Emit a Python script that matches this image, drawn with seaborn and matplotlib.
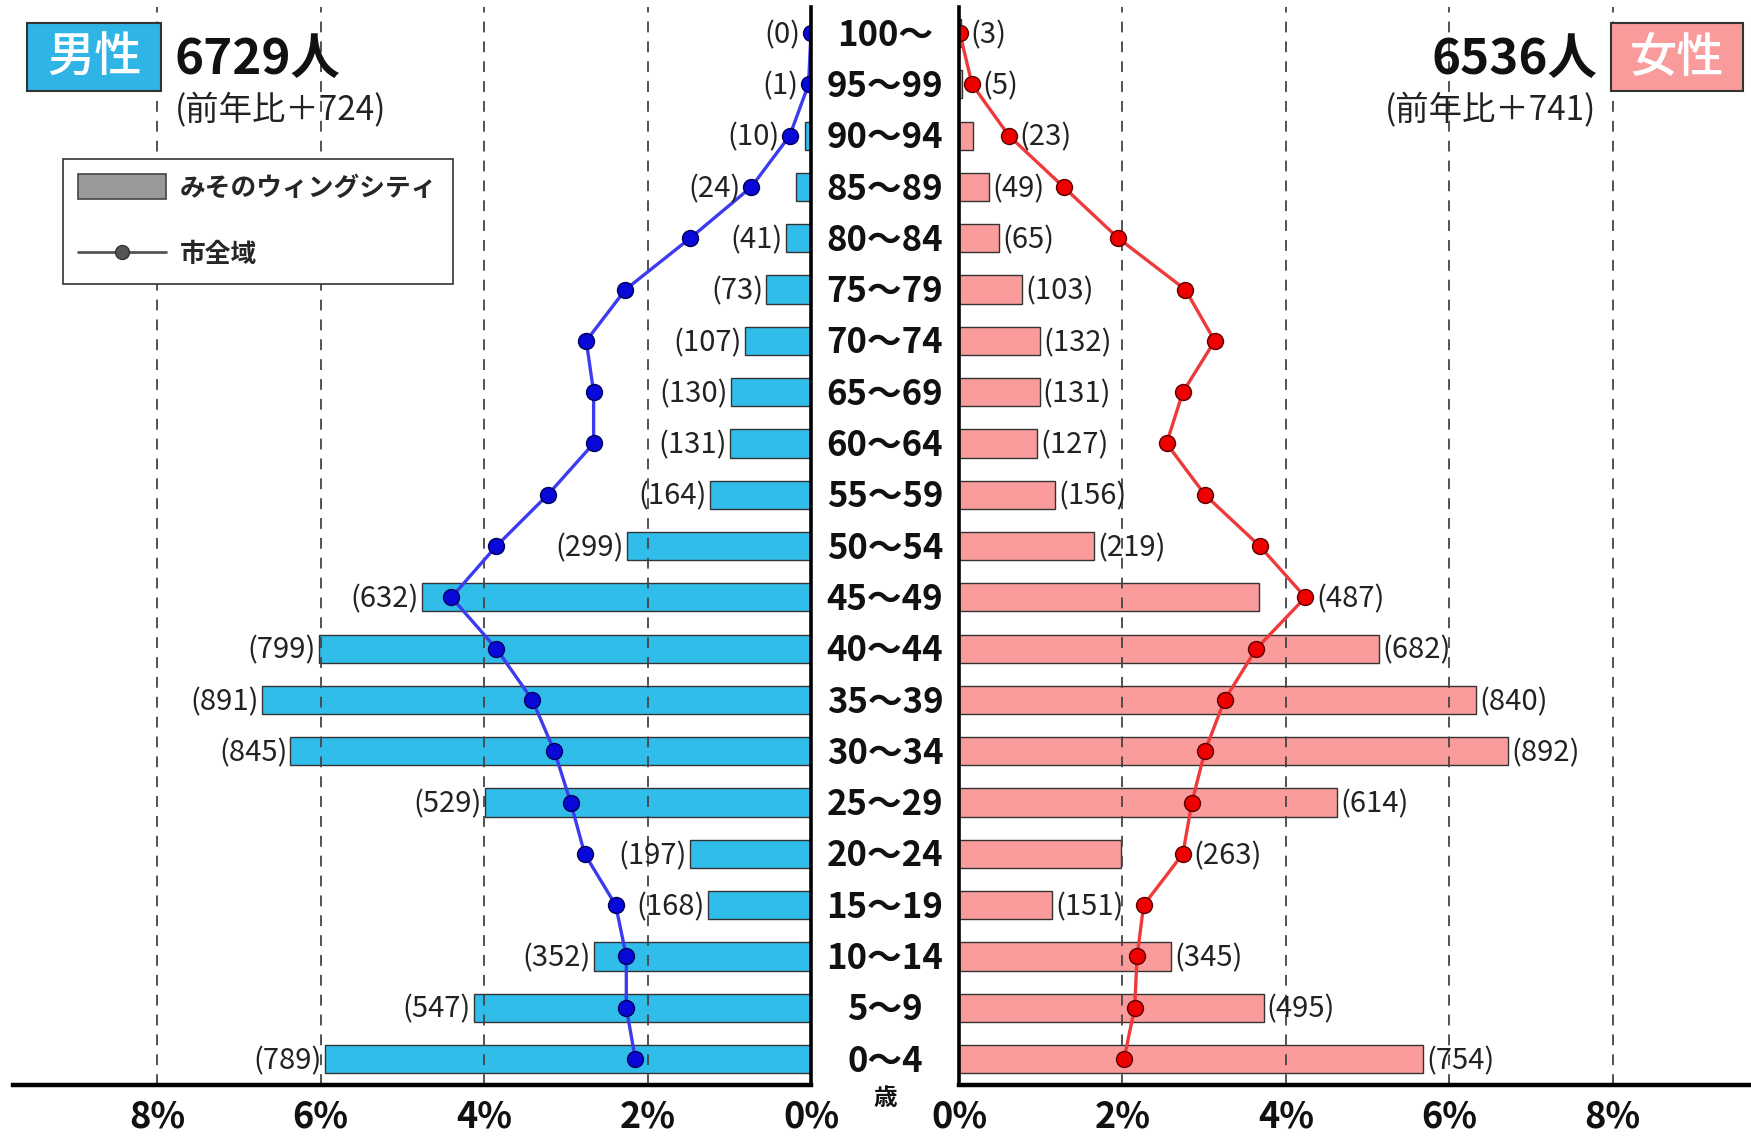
import numpy as np
import pandas as pd
import matplotlib
matplotlib.use('Agg')
import matplotlib.pyplot as plt
import seaborn as sns
from matplotlib.patches import Rectangle, Patch
from matplotlib.lines import Line2D
from matplotlib import transforms

# ---------------- data ----------------
ages = ['100～', '95～99', '90～94', '85～89', '80～84', '75～79', '70～74',
        '65～69', '60～64', '55～59', '50～54', '45～49', '40～44', '35～39',
        '30～34', '25～29', '20～24', '15～19', '10～14', '5～9', '0～4']
male_counts = [0, 1, 10, 24, 41, 73, 107, 130, 131, 164, 299, 632, 799, 891,
               845, 529, 197, 168, 352, 547, 789]
female_counts = [3, 5, 23, 49, 65, 103, 132, 131, 127, 156, 219, 487, 682, 840,
                 892, 614, 263, 151, 345, 495, 754]
# city-wide share (%)
male_city_pct = [0.0, 0.03, 0.26, 0.73, 1.48, 2.27, 2.75, 2.66, 2.66, 3.22, 3.85,
                 4.40, 3.85, 3.41, 3.14, 2.94, 2.77, 2.39, 2.26, 2.26, 2.15]
female_city_pct = [0.01, 0.16, 0.61, 1.28, 1.95, 2.77, 3.13, 2.74, 2.54, 3.01, 3.68,
                   4.24, 3.64, 3.25, 3.01, 2.85, 2.74, 2.26, 2.18, 2.15, 2.02]
x_ticks = [0, 2, 4, 6, 8]
x_tick_labels = ['0%', '2%', '4%', '6%', '8%']
male_title = '男性'
female_title = '女性'
male_total_text = '6729人'
female_total_text = '6536人'
male_diff_text = '(前年比＋724)'
female_diff_text = '(前年比＋741)'
legend_labels = ['みそのウィングシティ', '市全域']
unit_label = '歳'

# ---------------- style ----------------
sns.set_style('white')
plt.rcParams['font.family'] = ['Noto Sans CJK JP', 'DejaVu Sans']

BLUE_BAR = '#31BDEA'
PINK_BAR = '#FA9C9C'
BLUE_LINE = '#3C3CEE'
BLUE_MK = '#0808D8'
RED_LINE = '#EE3A3A'
RED_MK = '#EE0000'

W, H = 1751, 1139
fig = plt.figure(figsize=(W / 100, H / 100), dpi=100)


def fx(px):
    return px / W


def fy(py):
    return 1 - py / H


total = sum(male_counts) + sum(female_counts)
df = pd.DataFrame({
    'age': ages,
    'male_pct': np.array(male_counts) / total * 100,
    'female_pct': np.array(female_counts) / total * 100,
})
n = len(ages)

ax_top, ax_bot = 7.4, 1084.7
PX_PER_PCT = 81.7
zeroL, zeroR = 811, 959
axL = fig.add_axes([fx(13.4), fy(ax_bot), fx(zeroL - 13.4), (ax_bot - ax_top) / H])
axR = fig.add_axes([fx(zeroR), fy(ax_bot), fx(W - zeroR), (ax_bot - ax_top) / H])

sides = [
    (axL, 'male_pct', male_counts, male_city_pct, BLUE_BAR, BLUE_LINE, BLUE_MK, '#00005A', -1),
    (axR, 'female_pct', female_counts, female_city_pct, PINK_BAR, RED_LINE, RED_MK, '#5A0000', 1),
]

LABEL_FS = 21
r = 7.5 / PX_PER_PCT
gap = 3 / PX_PER_PCT
em = LABEL_FS * 100 / 72
TXT_DY = 0.04  # small downward nudge for CJK text vertical centering

for ax, col, counts, city, bcol, lcol, mcol, medge, direction in sides:
    sns.barplot(data=df, y='age', x=col, order=ages, orient='h', color=bcol,
                saturation=1, edgecolor='#333333', linewidth=1.0, width=0.55,
                ax=ax, zorder=1)
    for t in x_ticks[1:]:
        ax.axvline(t, color='#444444', lw=1.3, ls=(0, (6, 5)), zorder=1.5)
    sns.lineplot(x=city, y=np.arange(n), sort=False, orient='y', estimator=None,
                 color=lcol, lw=2.4, marker='o', markersize=11.5,
                 markerfacecolor=mcol, markeredgecolor=medge, markeredgewidth=1.0,
                 ax=ax, zorder=4)
    ax.set_ylim(n - 0.5, -0.5)
    if direction < 0:
        ax.set_xlim(9.76, 0)
    else:
        ax.set_xlim(0, (W - zeroR) / PX_PER_PCT)
    ax.set_xlabel('')
    ax.set_ylabel('')
    ax.set_yticks([])
    ax.set_xticks(x_ticks)
    ax.set_xticklabels(x_tick_labels, fontsize=26, fontweight='bold')
    ax.tick_params(axis='x', length=0, pad=10, colors='#111111')
    for s in ax.spines.values():
        s.set_visible(False)
    ax.spines['bottom'].set_visible(True)
    ax.spines['bottom'].set_linewidth(3.2)
    ax.spines['bottom'].set_color('black')
    zs = 'right' if direction < 0 else 'left'
    ax.spines[zs].set_visible(True)
    ax.spines[zs].set_linewidth(2.6)
    ax.spines[zs].set_color('black')
    ax.spines[zs].set_zorder(5)

    bars = df[col].values
    for i, (c, b, m) in enumerate(zip(counts, bars, city)):
        txt = f'({c})'
        w = em * (0.66 + 0.55 * len(str(c))) / PX_PER_PCT
        if m + r > b and (m - r) < b + gap + w:
            anchor = m + r
        else:
            anchor = b
        ax.text(anchor + gap, i + TXT_DY, txt, ha='right' if direction < 0 else 'left',
                va='center', fontsize=LABEL_FS, color='#222222', zorder=6)

# age labels in the center
trans = transforms.blended_transform_factory(fig.transFigure, axL.transData)
for i, a in enumerate(ages):
    axL.text(fx(885), i + TXT_DY, a, transform=trans, ha='center', va='center',
             fontsize=25, fontweight='bold', color='#111111', clip_on=False)

fig.text(fx(885), fy(1098), unit_label, ha='center', va='center', fontsize=17,
         fontweight='bold', color='#111111')

# title boxes
fig.patches.append(Rectangle((fx(27), fy(91)), fx(161 - 27), (91 - 23) / H,
                             transform=fig.transFigure, facecolor='#2FB4E6',
                             edgecolor='#333333', lw=1.5, zorder=5))
fig.text(fx(94), fy(58), male_title, ha='center', va='center', fontsize=34,
         fontweight='medium', color='white', zorder=6)
fig.patches.append(Rectangle((fx(1611), fy(91)), fx(1743 - 1611), (91 - 23) / H,
                             transform=fig.transFigure, facecolor='#F99B9B',
                             edgecolor='#333333', lw=1.5, zorder=5))
fig.text(fx(1677), fy(58), female_title, ha='center', va='center', fontsize=34,
         fontweight='medium', color='white', zorder=6)

fig.text(fx(174), fy(59), male_total_text, ha='left', va='center', fontsize=35.5,
         fontweight='bold', color='#111111')
fig.text(fx(175), fy(111), male_diff_text, ha='left', va='center', fontsize=24,
         color='#222222')
fig.text(fx(1597), fy(59), female_total_text, ha='right', va='center', fontsize=35.5,
         fontweight='bold', color='#111111')
fig.text(fx(1596), fy(111), female_diff_text, ha='right', va='center', fontsize=24,
         color='#222222')

# legend
handles = [
    Patch(facecolor='#999999', edgecolor='#444444', lw=1.2, label=legend_labels[0]),
    Line2D([], [], color='#555555', lw=2, marker='o', markersize=10,
           markerfacecolor='#555555', markeredgecolor='#333333', label=legend_labels[1]),
]
leg = fig.legend(handles=handles, loc='upper left',
                 bbox_to_anchor=(fx(63), fy(159)), bbox_transform=fig.transFigure,
                 frameon=True, fancybox=False, edgecolor='#333333', framealpha=1,
                 prop={'size': 18.5, 'weight': 'bold'}, handlelength=3.4,
                 handleheight=1.1, labelspacing=1.55, borderpad=0.6,
                 handletextpad=0.55, borderaxespad=0)
leg.get_frame().set_linewidth(1.2)

fig.savefig('out.png', dpi=100)
